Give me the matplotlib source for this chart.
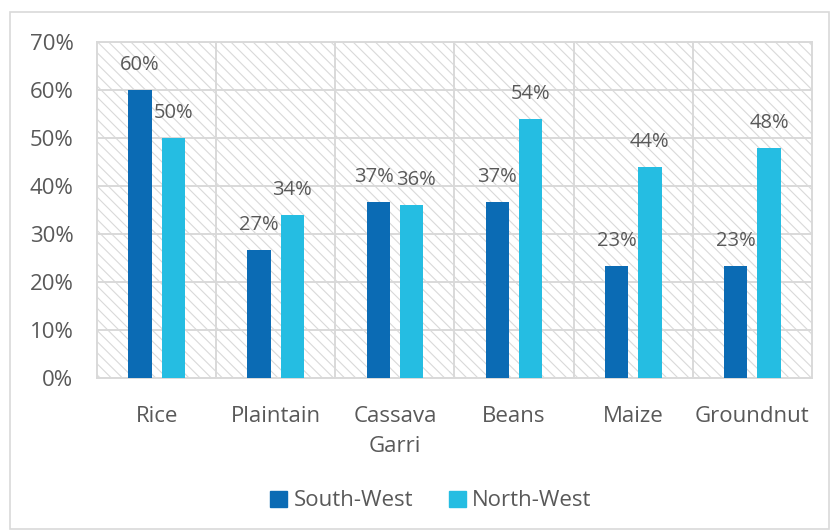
import numpy as np
import matplotlib.pyplot as plt
from matplotlib.patches import Rectangle, Patch

plt.rcParams['font.family'] = ['Open Sans', 'DejaVu Sans']
plt.rcParams['hatch.color'] = '#dadada'
plt.rcParams['hatch.linewidth'] = 0.8

crops = ['Rice', 'Plaintain', 'Cassava\nGarri', 'Beans', 'Maize', 'Groundnut']
south_west = [60, 26.7, 36.7, 36.7, 23.3, 23.3]
north_west = [50, 34, 36, 54, 44, 48]
series_names = ['South-West', 'North-West']

c_sw = '#0b6bb4'
c_nw = '#25bde2'
txt = '#595959'
grid_c = '#d9d9d9'
fs = 16

fig = plt.figure(figsize=(8.32, 5.31), dpi=100)
fig.patches.append(Rectangle((10/832, 2/531), 819/832, 517/531, transform=fig.transFigure,
                             fill=False, edgecolor=grid_c, lw=1.2))
ax = fig.add_axes([97/832, 1 - 378/531, 715/832, 336/531])

x = np.arange(len(crops))
w = 0.195
off = 0.14

# hatched plot background
ax.add_patch(Rectangle((0, 0), 1, 1, transform=ax.transAxes, facecolor='white',
                       edgecolor=grid_c, hatch='\\\\\\', lw=0, zorder=0))

b1 = ax.bar(x - off, south_west, w, color=c_sw, zorder=3)
b2 = ax.bar(x + off, north_west, w, color=c_nw, zorder=3)

for side, bars, vals, other in ((-1, b1, south_west, north_west), (1, b2, north_west, south_west)):
    for b, v, o in zip(bars, vals, other):
        # push apart labels that sit at the same height
        dx = 3 * side if abs(v - o) < 5 else 0
        ax.annotate(f'{v:.0f}%', (b.get_x() + b.get_width() / 2, v), xytext=(dx, 18),
                    textcoords='offset points', ha='center', va='center',
                    fontsize=14.5, color=txt, zorder=5)

ax.set_xlim(-0.5, len(crops) - 0.5)
ax.set_ylim(0, 70)
ax.set_yticks(np.arange(0, 71, 10))
ax.set_yticklabels([f'{t}%' for t in range(0, 71, 10)])
ax.set_xticks(x)
ax.set_xticklabels(crops, linespacing=1.6)
ax.set_xticks(np.arange(0.5, len(crops) - 0.5, 1), minor=True)

ax.grid(axis='y', which='major', color=grid_c, lw=1.4, zorder=1)
ax.grid(axis='x', which='minor', color=grid_c, lw=1.4, zorder=1)
ax.tick_params(which='both', length=0)
ax.tick_params(axis='y', pad=17, labelsize=fs, labelcolor=txt)
ax.tick_params(axis='x', pad=20, labelsize=fs, labelcolor=txt)
for s in ax.spines.values():
    s.set_color(grid_c)
    s.set_linewidth(1.4)
ax.set_axisbelow(True)

handles = [Patch(color=c_sw), Patch(color=c_nw)]
fig.legend(handles, series_names, loc='center', bbox_to_anchor=(431/832, 1 - 501/531),
           ncol=2, frameon=False, fontsize=fs, labelcolor=txt, handlelength=0.75,
           handleheight=0.75, handletextpad=0.3, columnspacing=1.6)

fig.savefig('out.png', dpi=100)
